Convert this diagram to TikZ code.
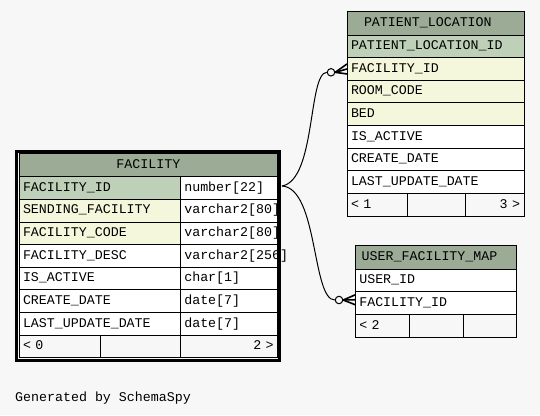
\documentclass[tikz,border=0pt]{standalone}
\usepackage{fontspec}
\setmonofont{Liberation Mono}
\usetikzlibrary{positioning}
\definecolor{bggray}{HTML}{F7F7F7}
\definecolor{headgreen}{HTML}{9BAB96}
\definecolor{pkgreen}{HTML}{BED1B8}
\definecolor{idxyellow}{HTML}{F5F7DD}
\tikzstyle{cell} = [rectangle, draw=black, line width=1pt, fill=white, minimum height=22.65pt, inner xsep=4pt, inner ysep=0pt, outer sep=0pt, text height=9pt, text depth=2.5pt, align=left]
\tikzstyle{pkcell} = [cell, fill=pkgreen]
\tikzstyle{idxcell} = [cell, fill=idxyellow]
\tikzstyle{head} = [cell, fill=headgreen, minimum height=24pt, align=center]
\tikzstyle{foot} = [cell, fill=bggray]
\tikzstyle{frame} = [draw=black, line width=2.5pt]
\tikzstyle{dot} = [circle, draw=black, line width=1pt, minimum size=7.5pt, inner sep=0pt]
\tikzstyle{relation} = [line width=1pt]
\tikzstyle{crow} = [line width=1.6pt]
\begin{document}
\begin{tikzpicture}[x=1pt, y=-1pt, font=\ttfamily\fontsize{13.3}{16}\selectfont]

% background and page size
\fill[bggray] (0,0) rectangle (540,415);
\useasboundingbox (0,0) rectangle (540,415);

% Table 1 - FACILITY (double border)
\draw[frame] (16.3,151.3) rectangle (279.7,360.4);
\node[head, minimum width=258.7pt, minimum height=23.7pt, anchor=north west] (facHead) at (19,153) {FACILITY};
\node[pkcell, text width=153.3pt, anchor=north west] (facId) at (facHead.south west) {FACILITY\_ID};
\node[cell, text width=89.4pt, right=0pt of facId] (facIdType) {number[22]};
\node[idxcell, text width=153.3pt, below=0pt of facId] (facSend) {SENDING\_FACILITY};
\node[cell, text width=89.4pt, right=0pt of facSend] (facSendType) {varchar2[80]};
\node[idxcell, text width=153.3pt, below=0pt of facSend] (facCode) {FACILITY\_CODE};
\node[cell, text width=89.4pt, right=0pt of facCode] (facCodeType) {varchar2[80]};
\node[cell, text width=153.3pt, below=0pt of facCode] (facDesc) {FACILITY\_DESC};
\node[cell, text width=89.4pt, right=0pt of facDesc] (facDescType) {varchar2[256]};
\node[cell, text width=153.3pt, below=0pt of facDesc] (facActive) {IS\_ACTIVE};
\node[cell, text width=89.4pt, right=0pt of facActive] (facActiveType) {char[1]};
\node[cell, text width=153.3pt, below=0pt of facActive] (facCreate) {CREATE\_DATE};
\node[cell, text width=89.4pt, right=0pt of facCreate] (facCreateType) {date[7]};
\node[cell, text width=153.3pt, below=0pt of facCreate] (facUpdate) {LAST\_UPDATE\_DATE};
\node[cell, text width=89.4pt, right=0pt of facUpdate] (facUpdateType) {date[7]};
\node[foot, text width=73.3pt, anchor=north west] (facFootL) at (facUpdate.south west) {< 0};
\node[foot, text width=72pt, right=0pt of facFootL] (facFootM) {};
\node[foot, text width=89.4pt, align=right, right=0pt of facFootM] (facFootR) {2 >};

% Table 2 - PATIENT_LOCATION
\node[head, text width=143pt, inner xsep=17pt, align=left, anchor=north west] (plHead) at (347,11) {PATIENT\_LOCATION};
\node[pkcell, text width=169pt, below=0pt of plHead] (plId) {PATIENT\_LOCATION\_ID};
\node[idxcell, text width=169pt, below=0pt of plId] (plFac) {FACILITY\_ID};
\node[idxcell, text width=169pt, below=0pt of plFac] (plRoom) {ROOM\_CODE};
\node[idxcell, text width=169pt, below=0pt of plRoom] (plBed) {BED};
\node[cell, text width=169pt, below=0pt of plBed] (plActive) {IS\_ACTIVE};
\node[cell, text width=169pt, below=0pt of plActive] (plCreate) {CREATE\_DATE};
\node[cell, text width=169pt, below=0pt of plCreate] (plUpdate) {LAST\_UPDATE\_DATE};
\node[foot, text width=52.7pt, anchor=north west] (plFootL) at (plUpdate.south west) {< 1};
\node[foot, text width=49.6pt, right=0pt of plFootL] (plFootM) {};
\node[foot, text width=50.7pt, align=right, right=0pt of plFootM] (plFootR) {3 >};

% Table 3 - USER_FACILITY_MAP
\node[head, text width=148.6pt, inner xsep=6.4pt, align=left, anchor=north west] (ufHead) at (355.3,245.3) {USER\_FACILITY\_MAP};
\node[cell, text width=153.4pt, below=0pt of ufHead] (ufUser) {USER\_ID};
\node[cell, text width=153.4pt, below=0pt of ufUser] (ufFac) {FACILITY\_ID};
\node[foot, text width=46pt, anchor=north west] (ufFootL) at (ufFac.south west) {< 2};
\node[foot, text width=46pt, right=0pt of ufFootL] (ufFootM) {};
\node[foot, text width=45.4pt, right=0pt of ufFootM] (ufFootR) {};

% Relations - zero or many
\coordinate (facPort) at (282,186);
\node[dot] (plDot) at (331,72.3) {};
\node[dot] (ufDot) at (339,300) {};
\draw[relation] (facPort) .. controls (316,180) and (308,73) .. (plDot.west);
\draw[relation] (facPort) .. controls (318,188) and (312,300) .. (ufDot.west);
\draw[crow] (plDot.east) -- ([yshift=5pt]plFac.west);
\draw[crow] (plDot.east) -- (plFac.west);
\draw[crow] (plDot.east) -- ([yshift=-5pt]plFac.west);
\draw[crow] (ufDot.east) -- ([yshift=8.5pt]ufFac.west);
\draw[crow] (ufDot.east) -- ([yshift=3.5pt]ufFac.west);
\draw[crow] (ufDot.east) -- ([yshift=-1.5pt]ufFac.west);

\node[inner sep=0pt, anchor=base west] (genBy) at (15,401.5) {Generated by SchemaSpy};

\end{tikzpicture}
\end{document}
